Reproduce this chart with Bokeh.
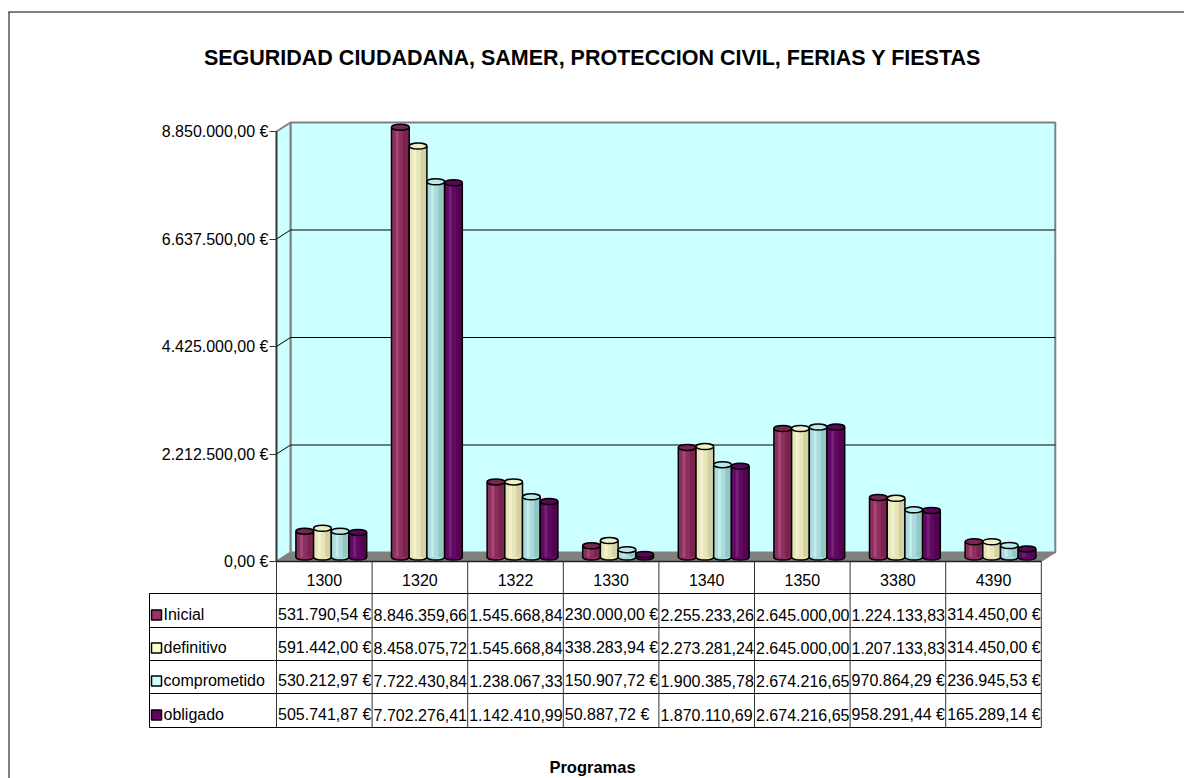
from bokeh.plotting import figure
from bokeh.models import Range1d, FixedTicker, ColumnDataSource
from bokeh.core.properties import value
from bokeh.embed import file_html
from bokeh.resources import INLINE

# ---------------- data ----------------
title = "SEGURIDAD CIUDADANA, SAMER, PROTECCION CIVIL, FERIAS Y FIESTAS"
x_title = "Programas"
categories = ["1300", "1320", "1322", "1330", "1340", "1350", "3380", "4390"]
series = ["Inicial", "definitivo", "comprometido", "obligado"]
inicial = [531790.54, 8846359.66, 1545668.84, 230000.00, 2255233.26, 2645000.00, 1224133.83, 314450.00]
definitivo = [591442.00, 8458075.72, 1545668.84, 338283.94, 2273281.24, 2645000.00, 1207133.83, 314450.00]
comprometido = [530212.97, 7722430.84, 1238067.33, 150907.72, 1900385.78, 2674216.65, 970864.29, 236945.53]
obligado = [505741.87, 7702276.41, 1142410.99, 50887.72, 1870110.69, 2674216.65, 958291.44, 165289.14]
tick_values = [0, 2212500, 4425000, 6637500, 8850000]
tick_labels = ["0,00 €", "2.212.500,00 €", "4.425.000,00 €", "6.637.500,00 €", "8.850.000,00 €"]

series_values = [inicial, definitivo, comprometido, obligado]

# ---------------- styles ----------------
key_colors = ["#993366", "#FFFFCC", "#CCFFFF", "#660066"]
body_colors = ["#8E2E5E", "#E8E6B8", "#AADCDC", "#620862"]
hi_colors = ["#B25A86", "#FAFAE0", "#D6F6F6", "#843084"]
shade_colors = ["#6A1C44", "#C6C498", "#86B8B8", "#480048"]
top_colors = ["#7A2550", "#EEEEC8", "#BCE8E8", "#580658"]
FONT = "Liberation Sans"

# ---------------- layout (page pixels -> data) ----------------
CW, CH = 1184, 778
PAGE_L, PAGE_T = 0, 0
AX_X = 276.0          # page x of front value axis
COL_W = 95.6          # page px per category
ZERO_Y = 561.0        # page y of value 0 on the front plane
S = 2212500 / 107.5   # value units per pixel


def dx(px):
    return (px - AX_X) / COL_W


def dy(py):
    return (ZERO_Y - py) * S


DEP_X = 14 / COL_W
DEP_Y = 9 * S
n = len(categories)
top_v = tick_values[-1]

p = figure(width=CW, height=CH, output_backend="svg", toolbar_location=None,
           x_range=Range1d(dx(PAGE_L), dx(PAGE_L + CW)),
           y_range=Range1d(dy(PAGE_T + CH), dy(PAGE_T)),
           min_border=0, outline_line_color=None,
           background_fill_color="white", border_fill_color="white")
p.xaxis.visible = False
p.grid.visible = False

# outer border (left & top visible)
p.segment(x0=[dx(8.5), dx(8)], y0=[dy(11.5), dy(11.5)],
          x1=[dx(8.5), dx(1200)], y1=[dy(800), dy(11.5)],
          line_color="black", line_width=1)

# walls and floor
p.patch([DEP_X, n + DEP_X, n + DEP_X, DEP_X],
        [DEP_Y, DEP_Y, top_v + DEP_Y, top_v + DEP_Y],
        fill_color="#CCFFFF", line_color="#808080", line_width=2)
p.patch([0, DEP_X, DEP_X, 0], [0, DEP_Y, top_v + DEP_Y, top_v],
        fill_color="#CCFFFF", line_color="#808080", line_width=2)
p.patch([0, DEP_X, n + DEP_X, n], [0, DEP_Y, DEP_Y, 0],
        fill_color="#808080", line_color="#808080", line_width=1)

mid = tick_values[1:-1]
p.segment(x0=[DEP_X] * len(mid), y0=[t + DEP_Y for t in mid],
          x1=[n + DEP_X] * len(mid), y1=[t + DEP_Y for t in mid],
          line_color="black", line_width=1)
p.segment(x0=[0] * len(mid), y0=mid, x1=[DEP_X] * len(mid),
          y1=[t + DEP_Y for t in mid], line_color="black", line_width=1)

# ---------------- cylinders ----------------
bw = 17.7 / COL_W
HX = DEP_X / 2
HY = DEP_Y / 2
for j, vals in enumerate(series_values):
    xs = [i + 0.5 + (j - 1.5) * bw + HX for i in range(n)]
    tops = [v + HY for v in vals]
    src = ColumnDataSource(dict(x=xs, top=tops, base=[HY] * n,
                                left=[x - bw / 2 for x in xs],
                                right=[x + bw / 2 for x in xs],
                                hx=[x - bw * 0.18 for x in xs],
                                sx=[x + bw * 0.3 for x in xs]))
    p.ellipse(x="x", y="base", width=bw, height=6, height_units="screen",
              source=src, fill_color=body_colors[j], line_color="black", line_width=1.5)
    p.vbar(x="x", top="top", bottom="base", width=bw, source=src,
           fill_color=body_colors[j], line_color=None)
    p.vbar(x="hx", top="top", bottom="base", width=bw * 0.16, source=src,
           fill_color=hi_colors[j], fill_alpha=0.6, line_color=None)
    p.vbar(x="sx", top="top", bottom="base", width=bw * 0.3, source=src,
           fill_color=shade_colors[j], fill_alpha=0.6, line_color=None)
    p.segment(x0="left", y0="base", x1="left", y1="top", source=src,
              line_color="black", line_width=1.5)
    p.segment(x0="right", y0="base", x1="right", y1="top", source=src,
              line_color="black", line_width=1.5)
    p.ellipse(x="x", y="top", width=bw, height=6, height_units="screen",
              source=src, fill_color=top_colors[j], line_color="black", line_width=1.5)

# floor front edge
p.segment(x0=[0], y0=[0], x1=[n], y1=[0], line_color="#222222", line_width=1.5)

# ---------------- value axis ----------------
ax = p.yaxis[0]
ax.fixed_location = 0
ax.bounds = (0, top_v)
ax.ticker = FixedTicker(ticks=tick_values)
ax.major_label_overrides = {t: l for t, l in zip(tick_values, tick_labels)}
ax.axis_line_color = "#333333"
ax.axis_line_width = 1.5
ax.major_tick_line_color = "#333333"
ax.major_tick_out = 7
ax.major_tick_in = 0
ax.minor_tick_line_color = None
ax.major_label_standoff = 1
ax.major_label_text_font = FONT
ax.major_label_text_font_size = "16px"
ax.major_label_text_color = "black"

# ---------------- data table ----------------
row_lines = [593, 627, 660, 693, 727]
p.segment(x0=[dx(149)] * len(row_lines), y0=[dy(r) for r in row_lines],
          x1=[n] * len(row_lines), y1=[dy(r) for r in row_lines],
          line_color="black", line_width=1)
p.segment(x0=list(range(n + 1)), y0=[0] * (n + 1),
          x1=list(range(n + 1)), y1=[dy(727)] * (n + 1),
          line_color="#333333", line_width=1)
p.segment(x0=[dx(149)], y0=[dy(593)], x1=[dx(149)], y1=[dy(727)],
          line_color="black", line_width=1)

p.text(x=[i + 0.5 for i in range(n)], y=[dy(579)] * n, text=categories,
       text_font=value(FONT), text_font_size="16px", text_align="center",
       text_baseline="middle", text_color="black")


def fmt(v):
    s = f"{v:,.2f}".replace(",", "X").replace(".", ",").replace("X", ".")
    return s + " €" if v < 1e6 else s


centers = [r - 13 for r in row_lines[1:]]
for j, vals in enumerate(series_values):
    yc = dy(centers[j])
    p.text(x=[i + 1.5 / COL_W for i in range(n)], y=[yc] * n,
           text=[fmt(v) for v in vals],
           text_font=value(FONT), text_font_size="16px", text_align="left",
           text_baseline="middle", text_color="black")

p.rect(x=[dx(156)] * len(series), y=[dy(c + 0.5) for c in centers],
       width=10, height=10, width_units="screen", height_units="screen",
       fill_color=key_colors, line_color="black", line_width=1.5)
p.text(x=[dx(163)] * len(series), y=[dy(c) for c in centers], text=series,
       text_font=value(FONT), text_font_size="16px", text_align="left",
       text_baseline="middle", text_color="black")

# ---------------- titles ----------------
p.text(x=[dx(592)], y=[dy(57)], text=[title], text_font=value(FONT),
       text_font_size="21.5px", text_font_style="bold", text_align="center",
       text_baseline="middle", text_color="black")
p.text(x=[dx(592)], y=[dy(766)], text=[x_title], text_font=value(FONT),
       text_font_size="16.5px", text_font_style="bold", text_align="center",
       text_baseline="middle", text_color="black")

open("out.html", "w").write(file_html(p, INLINE))
